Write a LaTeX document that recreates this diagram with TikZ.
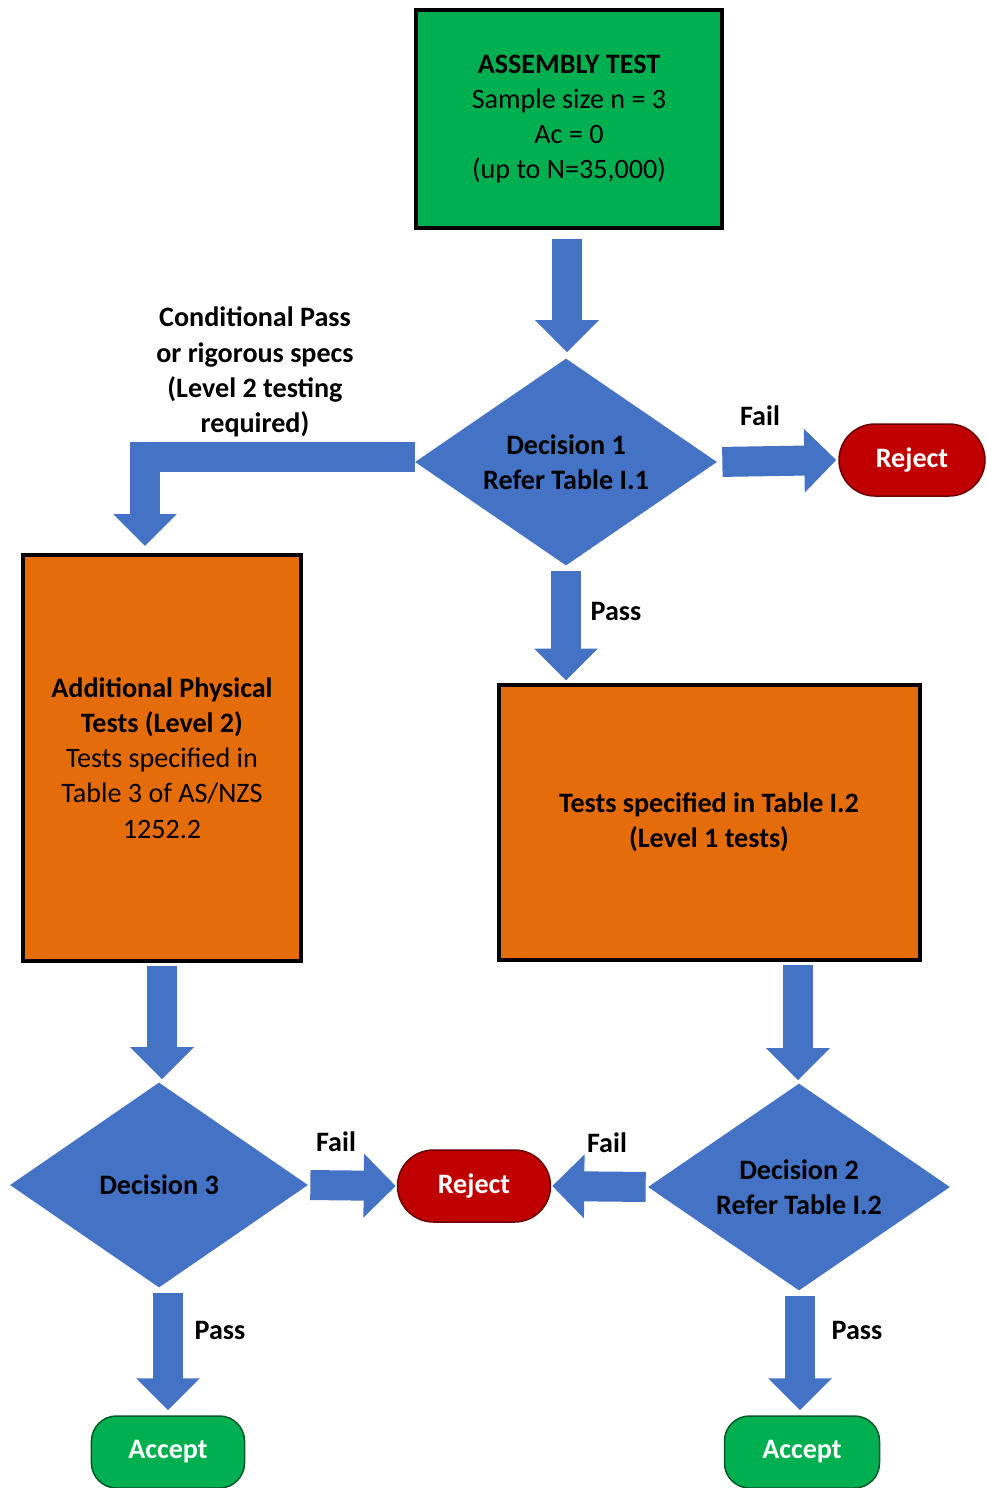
\documentclass[tikz,border=0pt]{standalone}
\usepackage{fontspec}
\setmainfont{Carlito}
\usetikzlibrary{positioning,shapes.geometric,arrows.meta}
\definecolor{boxgreen}{HTML}{00B050}
\definecolor{flowblue}{HTML}{4472C4}
\definecolor{boxorange}{HTML}{E46C0A}
\definecolor{rejred}{HTML}{C00000}
\definecolor{accgreen}{HTML}{00B050}

\begin{document}
\begin{tikzpicture}[x=0.2mm, y=-0.2mm,
    font=\fontsize{16}{20}\selectfont,
    testbox/.style={draw, line width=0.8mm, align=center, inner sep=2mm},
    decision/.style={diamond, shape aspect=1.46, fill=flowblue, inner sep=0pt, align=center, font=\fontsize{16}{20}\selectfont\bfseries},
    terminal/.style={draw, line width=0.3mm, text=white, align=center, minimum height=14.4mm, font=\fontsize{16}{20}\selectfont\bfseries},
    blockarrow/.style={flowblue, line width=6mm, -{Triangle[length=6.4mm, width=12.4mm]}},
    lbl/.style={align=center, font=\fontsize{16}{20}\selectfont\bfseries}]
    \useasboundingbox (0,0) rectangle (987,1488);

    % boxes
    \node[testbox, fill=boxgreen, minimum width=61.2mm, minimum height=43.6mm] (asm) at (569,119)
        {\textbf{ASSEMBLY TEST}\\Sample size n = 3\\Ac = 0\\(up to  N=35,000)};
    \node[testbox, fill=boxorange, minimum width=55.4mm, minimum height=81.2mm] (addtests) at (162,758)
        {\textbf{Additional Physical}\\\textbf{Tests (Level 2)}\\Tests specified in\\Table 3 of AS/NZS\\1252.2};
    \node[testbox, fill=boxorange, minimum width=84.2mm, minimum height=55mm] (lvl1) at (709,822)
        {\textbf{Tests specified in Table I.2}\\\textbf{(Level 1 tests)}};

    % decisions
    \node[decision, minimum width=60.4mm, minimum height=41.4mm] (dec1) at (566,462) {Decision 1\\Refer Table I.1};
    \node[decision, minimum width=60.4mm, minimum height=41.4mm] (dec2) at (799,1187) {Decision 2\\Refer Table I.2};
    \node[decision, minimum width=59.6mm, minimum height=41mm] (dec3) at (159,1185) {Decision 3};

    % end states
    \node[terminal, fill=rejred, draw=rejred!55!black, minimum width=29.2mm, rounded corners=7.2mm] (rej1) at (912,460) {Reject};
    \node[terminal, fill=rejred, draw=rejred!55!black, minimum width=30.6mm, rounded corners=7.2mm] (rej2) at (474,1186) {Reject};
    \node[terminal, fill=accgreen, draw=accgreen!50!black, minimum width=30.6mm, rounded corners=5mm] (acc3) at (168,1452) {Accept};
    \node[terminal, fill=accgreen, draw=accgreen!50!black, minimum width=31mm, rounded corners=5mm] (acc2) at (802,1452) {Accept};

    % arrows
    \draw[blockarrow, shorten <=1.8mm, shorten >=1.2mm] ([xshift=-0.4mm]asm.south) -- ([xshift=-0.4mm]asm.south |- dec1.north);
    \draw[blockarrow, shorten <=1mm, shorten >=0.4mm] (dec1.east) -- (rej1.west);
    \draw[blockarrow, shorten <=1mm, shorten >=0.4mm] (dec1.south) -- (dec1.south |- lvl1.north);
    \draw[blockarrow, line join=miter, shorten >=1.4mm] ([yshift=1mm]dec1.west) -| ([xshift=-3.4mm]addtests.north);
    \draw[blockarrow, shorten <=0.6mm, shorten >=0.6mm] (addtests.south) -- (addtests.south |- dec3.north);
    \draw[blockarrow, shorten <=0.6mm, shorten >=0.6mm] ([xshift=-0.2mm]dec2.north |- lvl1.south) -- ([xshift=-0.2mm]dec2.north);
    \draw[blockarrow, shorten <=0.4mm, shorten >=0.2mm] (dec3.east) -- (rej2.west);
    \draw[blockarrow, shorten <=0.4mm, shorten >=0.2mm] (dec2.west) -- (rej2.east);
    \draw[blockarrow, shorten <=1mm, shorten >=1mm] (acc3.north |- dec3.south) -- (acc3.north);
    \draw[blockarrow, shorten <=1mm, shorten >=1mm] ([xshift=-0.4mm]acc2.north |- dec2.south) -- ([xshift=-0.4mm]acc2.north);

    % labels
    \node[lbl] (condlbl) at (255,372) {Conditional Pass\\or rigorous specs\\(Level 2 testing\\required)};
    \node[lbl] (fail1) at (760,416) {Fail};
    \node[lbl] (pass1) at (616,611) {Pass};
    \node[lbl] (fail3) at (336,1142) {Fail};
    \node[lbl] (fail2) at (607,1143) {Fail};
    \node[lbl] (pass3) at (220,1330) {Pass};
    \node[lbl] (pass2) at (857,1330) {Pass};
\end{tikzpicture}
\end{document}
